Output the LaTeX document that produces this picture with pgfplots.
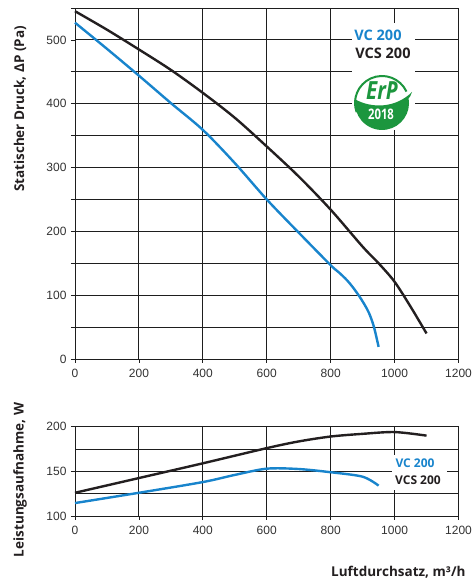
\documentclass[border=0pt]{standalone}
\usepackage{fontspec}
\setmainfont{Open Sans}
\newfontfamily\tickfont{Liberation Sans}
\usepackage{pgfplots}
\pgfplotsset{compat=1.18}

\definecolor{vcblue}{RGB}{24,132,204}
\definecolor{vcsblack}{RGB}{35,31,32}
\definecolor{erpgreen}{RGB}{28,150,62}
\definecolor{gridc}{RGB}{30,30,30}
\definecolor{ticktext}{RGB}{50,50,50}

\pgfplotsset{
  fanchart/.style={
    scale only axis, width=383.5pt,
    xmin=0, xmax=1200, xtick={0,200,...,1200},
    axis line style={draw=gridc, line width=0.9pt},
    tick style={draw=gridc, line width=0.8pt},
    major tick length=4pt, minor tick length=4pt,
    tick align=outside, xtick pos=bottom, ytick pos=left,
    grid=both,
    major grid style={draw=gridc, line width=0.9pt},
    minor grid style={draw=gridc, line width=0.9pt},
    tick label style={font=\tickfont\fontsize{12}{12}\selectfont, text=ticktext},
    xticklabel style={yshift=-3pt},
    yticklabel style={xshift=-1pt},
    /pgf/number format/assume math mode=true,
    /pgf/number format/1000 sep={},
    clip=false,
  },
  vcs/.style={vcsblack, line width=2.4pt, smooth, tension=0.5},
  vc/.style={vcblue, line width=2.4pt, smooth, tension=0.5},
}

\begin{document}
\begin{tikzpicture}[x=1pt, y=1pt]
\path[use as bounding box] (0,0) rectangle (473,580);

% static pressure curves
\begin{axis}[fanchart, at={(75pt,221pt)}, anchor=south west, height=351pt,
  ymin=0, ymax=550, ytick={0,100,...,500}, minor ytick={50,150,...,550}]
\addplot[vcs] coordinates {(0,545)(100,516)(200,485)(300,453)(400,417)(500,378)(600,333)(700,286)(800,234)(900,176)(950,150)(1000,121)(1050,82)(1100,40)};
\addplot[vc] coordinates {(0,527)(100,486)(200,444)(300,401)(400,359)(500,307)(600,250)(700,198)(800,147)(825,136)(850,124)(870,112)(890,98)(905,86)(920,72)(935,51)(950,19)};
\end{axis}

% power consumption curves
\begin{axis}[fanchart, at={(75pt,64pt)}, anchor=south west, height=89.3pt,
  ymin=100, ymax=200, ytick={100,150,200}, minor ytick={125,175}, minor tick length=0pt]
\addplot[vcs] coordinates {(0,126)(200,142.5)(400,159)(600,176)(700,183.5)(800,189)(900,192)(1000,194)(1100,190)};
\addplot[vc] coordinates {(0,114.5)(200,126)(400,138)(500,146)(600,153)(700,152.6)(800,149)(900,144)(950,134)};
\end{axis}

% legend of the pressure chart and the ErP badge
\fill[white] (352,450) rectangle (415,557);
\node[font=\bfseries\fontsize{14.5}{14.5}\selectfont, text=vcblue] at (378,545) {VC 200};
\node[font=\bfseries\fontsize{14.5}{14.5}\selectfont, text=vcsblack] at (383,527) {VCS 200};

\begin{scope}[shift={(382,477)}]
  \draw[erpgreen, line width=2pt] (25:27) arc[start angle=25, end angle=200, radius=27];
  \fill[erpgreen] (-27.5,4) .. controls (-10,-6) and (14,-5) .. (30,11)
     .. controls (28,6) .. (26.6,4.7) arc[start angle=10, end angle=-186, radius=27] -- cycle;
  \node[anchor=base, inner sep=0pt, text=erpgreen, font=\bfseries\itshape\fontsize{25}{25}\selectfont, xscale=0.82] at (0,3) {ErP};
  \node[anchor=base, inner sep=0pt, text=white, font=\bfseries\fontsize{14.5}{14.5}\selectfont, xscale=0.78] at (-1,-17) {2018};
\end{scope}

% legend of the power chart
\fill[white] (392,90) rectangle (447,125);
\node[font=\bfseries\fontsize{12}{12}\selectfont, text=vcblue] at (415,117) {VC 200};
\node[font=\bfseries\fontsize{12}{12}\selectfont, text=vcsblack] at (418,100) {VCS 200};

% axis titles
\node[rotate=90, font=\bfseries\fontsize{13.5}{13.5}\selectfont, text=vcsblack] at (20,471) {Statischer Druck, ΔP (Pa)};
\node[rotate=90, font=\bfseries\fontsize{13.5}{13.5}\selectfont, text=vcsblack] at (20,100) {Leistungsaufnahme, W};
\node[anchor=base east, font=\bfseries\fontsize{13.5}{13.5}\selectfont, text=vcsblack] at (469,3) {Luftdurchsatz, m³/h};
\end{tikzpicture}
\end{document}
